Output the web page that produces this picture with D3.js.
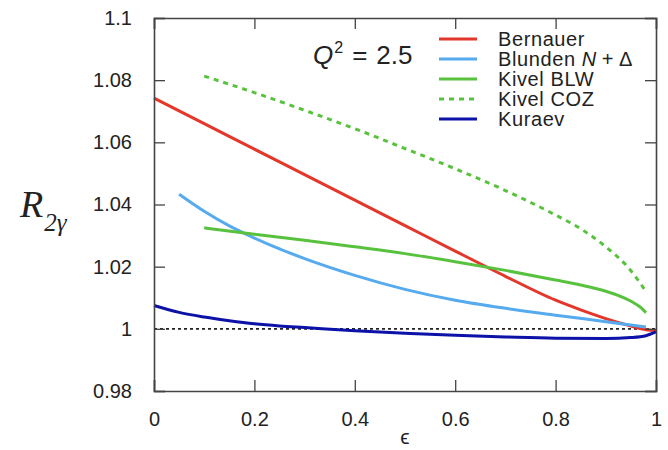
<!DOCTYPE html>
<html>
<head>
<meta charset="utf-8">
<script src="https://cdn.jsdelivr.net/npm/d3@7/dist/d3.min.js"></script>
<style>
  html, body { margin: 0; padding: 0; background: #fff; }
  svg { display: block; }
</style>
</head>
<body>
<svg id="chart" width="668" height="450"></svg>
<script>
// Two-photon exchange ratio R_2γ versus ε at Q² = 2.5
const xTicks = [0, 0.2, 0.4, 0.6, 0.8, 1];
const yTicks = [0.98, 1, 1.02, 1.04, 1.06, 1.08, 1.1];
const yTickLabels = ["0.98", "1", "1.02", "1.04", "1.06", "1.08", "1.1"];

const bernauerEps = [0, 0.1, 0.2, 0.3, 0.4, 0.5, 0.6, 0.7, 0.8, 0.85, 0.9, 0.95, 0.98, 1.0];
const bernauerR   = [1.0742, 1.0660, 1.0578, 1.0496, 1.0414, 1.0332, 1.0250, 1.0169, 1.0092, 1.0061, 1.0033, 1.0009, 0.9997, 0.9994];

const blundenEps = [0.05, 0.1, 0.15, 0.2, 0.25, 0.3, 0.4, 0.5, 0.6, 0.7, 0.8, 0.9, 0.98];
const blundenR   = [1.0433, 1.0378, 1.0331, 1.0292, 1.0257, 1.0226, 1.0172, 1.0127, 1.0092, 1.0066, 1.0044, 1.0023, 1.0006];

const blwEps = [0.1, 0.2, 0.3, 0.4, 0.5, 0.6, 0.7, 0.8, 0.85, 0.9, 0.93, 0.95, 0.97, 0.98];
const blwR   = [1.0325, 1.0304, 1.0285, 1.0264, 1.0242, 1.0216, 1.0188, 1.0157, 1.0141, 1.0121, 1.0104, 1.0089, 1.0068, 1.0052];

const cozEps = [0.1, 0.2, 0.3, 0.4, 0.5, 0.6, 0.7, 0.8, 0.85, 0.9, 0.95, 0.978];
const cozR   = [1.0813, 1.0760, 1.0703, 1.0644, 1.0580, 1.0515, 1.0445, 1.0366, 1.0322, 1.0264, 1.0187, 1.0125];

const kuraevEps = [0, 0.05, 0.1, 0.15, 0.2, 0.25, 0.3, 0.4, 0.5, 0.6, 0.7, 0.8, 0.9, 0.95, 0.98, 1.0];
const kuraevR   = [1.0075, 1.0053, 1.0038, 1.0026, 1.0016, 1.0009, 1.0004, 0.9994, 0.9986, 0.9979, 0.9974, 0.9970, 0.9969, 0.9972, 0.9978, 0.9990];

const seriesNames = ["Bernauer", "Blunden N + Δ", "Kivel BLW", "Kivel COZ", "Kuraev"];
const seriesColors = ["#e4372b", "#56aaee", "#58c23e", "#58c23e", "#0c12a8"];
const seriesDash = [null, null, null, "5,5", null];
const seriesEps = [bernauerEps, blundenEps, blwEps, cozEps, kuraevEps];
const seriesR = [bernauerR, blundenR, blwR, cozR, kuraevR];

const sans = "'Liberation Sans', Arial, sans-serif";
const serif = "'Liberation Serif', 'Times New Roman', serif";
const ink = "#222";

const svg = d3.select("#chart");
const plotLeft = 154, plotRight = 656, plotTop = 18, plotBottom = 391;

const x = d3.scaleLinear().domain([0, 1]).range([plotLeft, plotRight]);
const y = d3.scaleLinear().domain([0.98, 1.1]).range([plotBottom, plotTop]);

// reference line at R = 1
svg.append("line")
  .attr("x1", x(0)).attr("x2", x(1))
  .attr("y1", y(1)).attr("y2", y(1))
  .attr("stroke", "#222").attr("stroke-width", 1.8)
  .attr("stroke-dasharray", "3,3");

// curves
const line = d3.line()
  .x(d => x(d[0])).y(d => y(d[1]))
  .curve(d3.curveMonotoneX);

seriesNames.forEach((name, i) => {
  const pts = seriesEps[i].map((e, j) => [e, seriesR[i][j]]);
  svg.append("path")
    .datum(pts)
    .attr("d", line)
    .attr("fill", "none")
    .attr("stroke", seriesColors[i])
    .attr("stroke-width", 3)
    .attr("stroke-dasharray", seriesDash[i]);
});

// frame and inward ticks on all four sides
const frameColor = "#444";
const tickLen = 11;
const axB = d3.axisBottom(x).tickValues(xTicks).tickSize(-tickLen).tickPadding(tickLen + 10)
  .tickFormat(d => d === 0 ? "0" : d === 1 ? "1" : d3.format(".1f")(d));
const axT = d3.axisTop(x).tickValues(xTicks).tickSize(-tickLen).tickFormat("");
const axL = d3.axisLeft(y).tickValues(yTicks).tickSize(-tickLen).tickPadding(tickLen + 11)
  .tickFormat((d, i) => yTickLabels[i]);
const axR = d3.axisRight(y).tickValues(yTicks).tickSize(-tickLen).tickFormat("");

function style(g) {
  g.selectAll("path").attr("stroke", frameColor).attr("stroke-width", 1.6);
  g.selectAll("line").attr("stroke", frameColor).attr("stroke-width", 1.3);
  g.selectAll("text").style("font-size", "20px").style("fill", ink)
    .style("font-family", sans);
}
svg.append("g").attr("transform", `translate(0,${plotBottom})`).call(axB).call(style);
svg.append("g").attr("transform", `translate(0,${plotTop})`).call(axT).call(style);
svg.append("g").attr("transform", `translate(${plotLeft},0)`).call(axL).call(style);
svg.append("g").attr("transform", `translate(${plotRight},0)`).call(axR).call(style);

// axis titles
svg.append("text")
  .attr("x", x(0.5)).attr("y", 444)
  .attr("text-anchor", "middle")
  .style("font-family", sans).style("font-size", "21px").style("fill", ink)
  .text("ϵ");

const yl = svg.append("text")
  .attr("x", 20).attr("y", 217)
  .style("font-family", serif)
  .style("font-style", "italic")
  .style("font-size", "38px").style("fill", ink);
yl.append("tspan").text("R");
yl.append("tspan").attr("dy", 14).attr("dx", 1).style("font-size", "25px").text("2γ");

// Q² annotation
const q = svg.append("text")
  .attr("x", 313).attr("y", 64)
  .style("font-family", sans).style("font-size", "26px").style("fill", ink);
q.append("tspan").style("font-style", "italic").text("Q");
q.append("tspan").attr("dy", -11).attr("dx", 1).style("font-size", "16px").text("2");
q.append("tspan").attr("dy", 11).attr("dx", 9).text("=");
q.append("tspan").attr("dx", 9).text("2.5");

// legend
const legX1 = 439, legX2 = 477, legTextX = 498, legY0 = 39, legStep = 20;
seriesNames.forEach((name, i) => {
  const yy = legY0 + i * legStep;
  svg.append("line")
    .attr("x1", legX1).attr("x2", legX2)
    .attr("y1", yy).attr("y2", yy)
    .attr("stroke", seriesColors[i])
    .attr("stroke-width", 3)
    .attr("stroke-dasharray", seriesDash[i]);
  const t = svg.append("text")
    .attr("x", legTextX).attr("y", yy + 7)
    .style("font-family", sans).style("font-size", "20px")
    .style("letter-spacing", "0.6px").style("fill", ink);
  if (name === "Blunden N + Δ") {
    t.append("tspan").text("Blunden ");
    t.append("tspan").style("font-style", "italic").text("N");
    t.append("tspan").attr("dx", 5).text("+");
    t.append("tspan").attr("dx", 5).text("Δ");
  } else {
    t.text(name);
  }
});
</script>
</body>
</html>
